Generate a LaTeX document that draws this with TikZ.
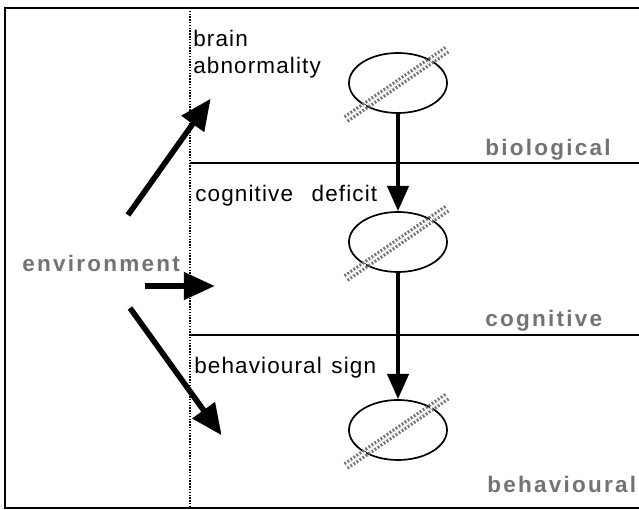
\documentclass[tikz,border=0pt]{standalone}
\usepackage{fontspec}
\setmainfont{Liberation Sans}
\usepackage{tikz}
\usetikzlibrary{arrows.meta}
\usetikzlibrary{calc}
\usetikzlibrary{shapes.geometric}

\begin{document}
\begin{tikzpicture}[
        x=0.025cm, y=-0.025cm,
        levelline/.style={line width=1.2pt},
        state/.style={ellipse, draw, line width=1.2pt,
                      minimum width=2.45cm, minimum height=1.5cm, inner sep=0pt},
        slash/.style 2 args={line width=#1, draw=#2, dash pattern=on 1.3pt off 1.3pt},
        slash/.default={6pt}{black!55},
        causal/.style={line width=4pt, -{Triangle[length=22pt,width=19pt]}, shorten >=-2pt},
        effect/.style={line width=3pt, -{Triangle[length=18pt,width=15pt]}},
        levelname/.style={font={\fontsize{16}{18}\selectfont\bfseries\addfontfeatures{LetterSpace=10}},
                          color=black!55, anchor=base west, inner sep=0pt},
        textlabel/.style={font={\fontsize{16}{18}\selectfont\addfontfeatures{LetterSpace=5}},
                          anchor=base west, inner sep=0pt},
      ]
      \useasboundingbox (0,0) rectangle (639,510);
      % Frame, open to the right
      \draw[line width=1.2pt] (640,8) -- (5,8) -- (5,508) -- (640,508);
      \draw[line width=1pt, densely dotted] (190,8) -- (190,508);
      % Levels
      \draw[levelline] (190,163) -- (640,163);
      \draw[levelline] (190,335) -- (640,335);
      \node[levelname] (biolbl) at (485,156) {biological};
      \node[levelname] (coglbl) at (485,327) {cognitive};
      \node[levelname] (behlbl) at (487,493) {behavioural};
      % States at each level
      \node[state] (bio) at (398,83) {};
      \node[state] (cog) at (398,242) {};
      \node[state] (beh) at (398,430) {};
      \foreach \s in {bio,cog,beh}{
        \draw[slash] ($(\s)+(-52,36)$) -- ($(\s)+(50,-34)$);
        \draw[slash={1.6pt}{white}] ($(\s)+(-52,36)$) -- ($(\s)+(50,-34)$);
      }
      \draw[effect] (bio) -- (cog);
      \draw[effect] (cog) -- (beh);
      % Texts
      \node[textlabel] (brain) at (193,47) {brain};
      \node[textlabel] (abnorm) at (193,74) {abnormality};
      \node[textlabel] (deficit) at (195,202) {cognitive\hspace{0.5em} deficit};
      \node[textlabel] (sign) at (194,374) {behavioural\hspace{0.1em} sign};
      % Environment
      \node[levelname] (env) at (22,272) {environment};
      \coordinate (upfrom) at (128,215);
      \coordinate (upto) at (209,101);
      \coordinate (midfrom) at (145,286);
      \coordinate (midto) at (212,286);
      \coordinate (downfrom) at (130,308);
      \coordinate (downto) at (220,433);
      \draw[causal] (upfrom) -- (upto);
      \draw[causal] (midfrom) -- (midto);
      \draw[causal] (downfrom) -- (downto);
    \end{tikzpicture}
\end{document}
